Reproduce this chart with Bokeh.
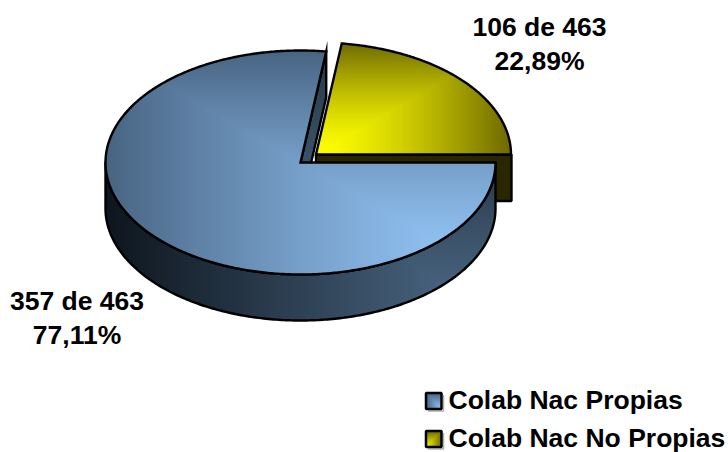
import numpy as np
from bokeh.plotting import figure
from bokeh.models import Range1d
from bokeh.core.properties import value
from bokeh.embed import file_html
from bokeh.resources import INLINE

categories = ["Colab Nac Propias", "Colab Nac No Propias"]
counts = [357, 106]
total = 463
count_labels = ["357 de 463", "106 de 463"]
percent_labels = ["77,11%", "22,89%"]

W, H = 728, 452
FONT = "Liberation Sans"
FS = "26.5px"
BLUE_HI, BLUE_LO = (150, 200, 250), (72, 100, 130)
YELL_HI, YELL_LO = (255, 255, 0), (110, 105, 0)

def px(x):
    return np.asarray(x, float)
def py(y):
    return H - np.asarray(y, float)

p = figure(width=W, height=H, x_range=Range1d(0, W), y_range=Range1d(0, H),
           x_axis_location=None, y_axis_location=None, output_backend="svg",
           toolbar_location=None, min_border=0, outline_line_color=None,
           background_fill_color="white", border_fill_color="white")
p.grid.visible = False

XX, YY = np.meshgrid(np.arange(W) + 0.5, H - (np.arange(H) + 0.5))

def inside(xs, ys):
    xs, ys = np.asarray(xs), np.asarray(ys)
    x0, y0, x1, y1 = xs, ys, np.roll(xs, -1), np.roll(ys, -1)
    res = np.zeros(XX.shape, bool)
    for a, b, c, d in zip(x0, y0, x1, y1):
        if b == d:
            continue
        cond = (b > YY) != (d > YY)
        xint = a + (YY - b) * (c - a) / (d - b)
        res ^= cond & (XX < xint)
    return res

def ramp(t, c0, c1, gamma=1.0):
    t = (np.clip(t, 0, 1) ** gamma)[..., None]
    return np.asarray(c0, float) * (1 - t) + np.asarray(c1, float) * t

def paint(mask, rgb):
    rgb = rgb.astype(np.uint32)
    img = rgb[..., 0] | (rgb[..., 1] << 8) | (rgb[..., 2] << 16) | (np.uint32(255) << 24)
    img = np.where(mask, img, 0).astype(np.uint32)
    p.image_rgba(image=[img], x=0, y=0, dw=W, dh=H)

def outline(xs, ys, join="round", width=2.4):
    p.patch(px(xs), py(ys), fill_color=None, line_color="black", line_width=width, line_join=join)

RX, RY, DEPTH = 195.0, 112.0, 46.0
blue_c = (300.0, 162.0)
yell_c = (315.5, 154.0)
sweep_blue = 360.0 * counts[0] / total
sweep_yell = 360.0 * counts[1] / total
start_blue = 90.0
end_blue = start_blue + sweep_blue

def arc(c, a0, a1, n=240, dy=0.0):
    t = np.radians(np.linspace(a0, a1, n))
    return c[0] + RX * np.sin(t), c[1] - RY * np.cos(t) + dy

# yellow side face
yx = yell_c[0] + RX
wx = [yell_c[0], yx + 0.5, yx + 0.5, yell_c[0]]
wy = [yell_c[1], yell_c[1], yell_c[1] + DEPTH + 0.5, yell_c[1] + DEPTH + 0.5]
p.patch(px(wx), py(wy), fill_color="#2a2700", line_color="black", line_width=2.4)

# yellow top
ax, ay = arc(yell_c, start_blue - sweep_yell, start_blue)
tx = np.r_[yell_c[0], ax]
ty = np.r_[yell_c[1], ay]
t = np.maximum((XX - yell_c[0]) / RX, (yell_c[1] - YY) / RY)
paint(inside(tx, ty), ramp(t, YELL_HI, YELL_LO, 1.4))
outline(tx, ty, "miter")

# blue gradient for the side faces
wall_t = np.maximum((blue_c[0] + RX - XX) / (2 * RX), (blue_c[1] + RY + DEPTH - YY) / (2 * RY + DEPTH))
wall_rgb = ramp(wall_t, (80, 110, 140), (14, 22, 30))

# blue inner cut face
ex, ey = arc(blue_c, end_blue, end_blue, 1)
cx_ = [blue_c[0], ex[0], ex[0], blue_c[0]]
cy_ = [blue_c[1], ey[0], ey[0] + DEPTH, blue_c[1] + DEPTH]
paint(inside(cx_, cy_), ramp(np.clip(wall_t, 0, 1) * 0.75, (88, 122, 150), (22, 34, 46)))
outline(cx_, cy_, "miter")

# blue outer face
ox, oy = arc(blue_c, 90, 270)
fx = np.r_[ox, ox[::-1]]
fy = np.r_[oy, oy[::-1] + DEPTH]
paint(inside(fx, fy), wall_rgb)
outline(fx, fy)

# blue top
bx, by = arc(blue_c, start_blue, end_blue, 480)
bx = np.r_[blue_c[0], bx]
by = np.r_[blue_c[1], by]
t = np.maximum((blue_c[0] + RX - XX) / (2 * RX), (blue_c[1] + RY - YY) / (2 * RY))
paint(inside(bx, by), ramp(t, BLUE_HI, BLUE_LO, 1.3))
outline(bx, by, "miter")

# data labels (centre line of the text)
def label(x, y, s, anchor="center", size=FS):
    p.text(x=[float(px(x))], y=[float(py(y))], text=[s], text_font=value(FONT), text_font_style="bold",
           text_font_size=size, text_align=anchor, text_baseline="middle", text_color="black")

label(539, 26, count_labels[1])
label(539, 60, percent_labels[1])
label(76.5, 300, count_labels[0])
label(76.5, 334, percent_labels[0])

# legend
for i, (name, top) in enumerate(zip(categories, (392.5, 430.5))):
    x0, x1, y0, y1 = 425.5, 441.0, top, top + 16.0
    m = (XX >= x0) & (XX <= x1) & (YY >= y0) & (YY <= y1)
    if i == 0:
        t = np.maximum((x1 - XX) / (x1 - x0), (y1 - YY) / (y1 - y0))
        paint(m, ramp(t, BLUE_HI, BLUE_LO))
    else:
        t = np.maximum((XX - x0) / (x1 - x0), (y1 - YY) / (y1 - y0))
        paint(m, ramp(t, YELL_HI, YELL_LO))
    p.line(px([x0 + 2, x1 + 2, x1 + 2]), py([y1 + 2, y1 + 2, y0 + 2]), line_color="#b0b0b0", line_width=1.5)
    p.patch(px([x0, x1, x1, x0]), py([y0, y0, y1, y1]), fill_color=None, line_color="black", line_width=2.5)
    label(448, top + 7, name, "left")

open("out.html", "w").write(file_html(p, INLINE))
